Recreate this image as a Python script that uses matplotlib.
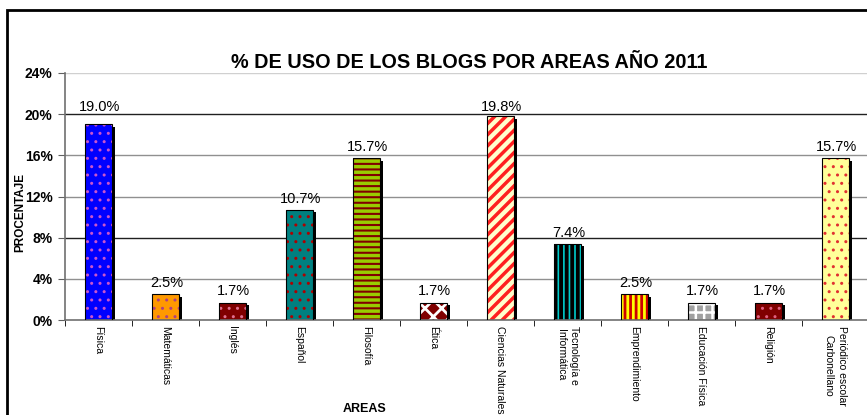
import matplotlib
matplotlib.use("Agg")
import matplotlib.pyplot as plt
from matplotlib.patches import Rectangle
import numpy as np

categories = ["Física", "Matemáticas", "Inglés", "Español", "Filosofía", "Ética",
              "Ciencias Naturales", "Tecnología e\nInformática", "Emprendimiento",
              "Educación Física", "Religión", "Periódico escolar\nCarbonellano"]
values = [19.0, 2.5, 1.7, 10.7, 15.7, 1.7, 19.8, 7.4, 2.5, 1.7, 1.7, 15.7]
value_labels = ["19.0%", "2.5%", "1.7%", "10.7%", "15.7%", "1.7%", "19.8%", "7.4%",
                "2.5%", "1.7%", "1.7%", "15.7%"]
yticks = [0, 4, 8, 12, 16, 20, 24]
ytick_labels = ["0%", "4%", "8%", "12%", "16%", "20%", "24%"]

face_colors = ["#0000FF", "#FF9900", "#800000", "#008080", "#99CC00", "#800000",
               "#FFFFCC", "#000000", "#FFFF00", "#A0A0A0", "#800000", "#FFFF99"]
hatch_colors = ["#CC55CC", "#B04080", "#E07090", "#B00000", "#800000", "#FFFFFF",
                "#FF2020", "#00CCCC", "#CC0000", "#FFFFFF", "#E06080", "#E03030"]
hatches = ["..", "..", "..", "..", "---", "xx", "///", "|||", "|||", "++", "..", ".."]
hatch_lw = [1.0, 1.0, 1.0, 1.0, 1.5, 2.0, 2.5, 1.2, 2.0, 1.8, 1.0, 1.0]

plt.rcParams["font.family"] = ["Liberation Sans", "DejaVu Sans"]

fig = plt.figure(figsize=(8.67, 4.15), dpi=100)
W, H = 867, 415
ax = fig.add_axes([65 / W, (H - 320) / H, (869 - 65) / W, (320 - 73) / H])

# outer frame (cut on the right and bottom)
fig.patches.append(Rectangle((7 / W, -0.1), 1.2, (H - 10) / H + 0.1, transform=fig.transFigure,
                             fill=False, edgecolor="black", linewidth=2, zorder=0))

x = np.arange(len(categories))
width = 0.4

grid_colors = ["none", "#909090", "#202020", "#909090", "#909090", "#202020", "#D0D0D0"]
for yv, gc in zip(yticks, grid_colors):
    if gc != "none":
        ax.axhline(yv, color=gc, linewidth=1.0, zorder=0.5)

# shadows
ax.bar(x + 0.05, [v - 0.25 for v in values], width=width, color="black", zorder=1)
for xi, v, fc, hc, h, hl in zip(x, values, face_colors, hatch_colors, hatches, hatch_lw):
    with plt.rc_context({"hatch.linewidth": hl}):
        bars = ax.bar(xi, v, width=width, color=fc, edgecolor=hc, hatch=h, linewidth=0, zorder=2)
    for b in bars:
        if hasattr(b, "set_hatch_linewidth"):
            b.set_hatch_linewidth(hl)
    ax.bar(xi, v, width=width, fill=False, edgecolor="black", linewidth=0.8, zorder=3)

for xi, v, lab in zip(x, values, value_labels):
    ly = v + 1.1 if v < 18 else 20.7
    ax.text(xi + 0.02, ly, lab, ha="center", va="center", fontsize=10.5)

ax.set_xlim(-0.5, len(categories) - 0.5)
ax.set_ylim(0, 24)
ax.set_yticks(yticks)
ax.set_yticklabels(ytick_labels, fontsize=10, fontweight="bold")
ax.set_xticks(x)
ax.set_xticklabels(categories, rotation=-90, fontsize=7.5,
                   family=["Liberation Sans Narrow", "Liberation Sans", "DejaVu Sans"],
                   va="top", ha="center", linespacing=1.4)
ax.tick_params(axis="x", length=0, pad=4)
ax.set_xticks(np.arange(len(categories) + 1) - 0.5, minor=True)
ax.tick_params(axis="x", which="minor", length=4, color="black", direction="out")
ax.tick_params(axis="y", length=5, color="#606060", direction="out", pad=4)

for s in ["top", "right"]:
    ax.spines[s].set_visible(False)
ax.spines["left"].set_color("#707070")
ax.spines["bottom"].set_color("#707070")
ax.spines["left"].set_linewidth(1.2)
ax.spines["bottom"].set_linewidth(1.2)

fig.text(469 / W, 1 - 62 / H, "% DE USO DE LOS BLOGS POR AREAS AÑO 2011",
         ha="center", va="center", fontsize=14.3, fontweight="bold")
fig.text(20 / W, 1 - 212 / H, "PROCENTAJE", rotation=90, ha="center", va="center",
         fontsize=8.5, fontweight="bold")
fig.text(365 / W, 1 - 409 / H, "AREAS", ha="center", va="center",
         fontsize=9, fontweight="bold")

fig.savefig("out.png", dpi=100)
